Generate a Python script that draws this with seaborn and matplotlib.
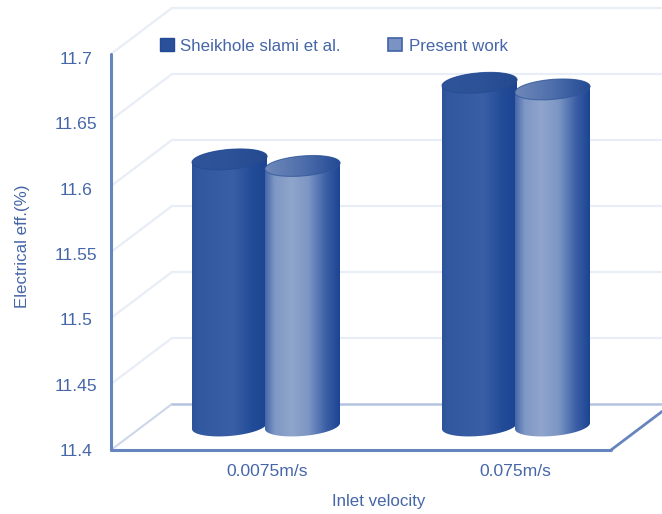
import numpy as np
import pandas as pd
import matplotlib
matplotlib.use("Agg")
import matplotlib.pyplot as plt
from matplotlib.colors import LinearSegmentedColormap
from matplotlib.patches import Patch, PathPatch
from matplotlib.path import Path
from matplotlib.transforms import ScaledTranslation
import seaborn as sns

# Chart values
velocities = ["0.0075m/s", "0.075m/s"]
sheikholeslami = [11.602, 11.66]
present_work = [11.597, 11.655]
series_names = ["Sheikhole slami et al.", "Present work"]
y_ticks = [11.4, 11.45, 11.5, 11.55, 11.6, 11.65, 11.7]
y_tick_labels = ["11.4", "11.45", "11.5", "11.55", "11.6", "11.65", "11.7"]

TEXT = "#4566a8"
W, H = 662, 514
sns.set_theme(style="white")
plt.rcParams["font.family"] = ["Liberation Sans", "DejaVu Sans"]

fig = plt.figure(figsize=(W / 100, H / 100), dpi=100, facecolor="white")
ax = fig.add_axes([111 / W, (H - 450) / H, 500 / W, 396 / H])

frame = pd.DataFrame({
    "velocity": velocities * 2,
    "series": [series_names[0]] * 2 + [series_names[1]] * 2,
    "value": sheikholeslami + present_work,
})
sns.barplot(data=frame, x="velocity", y="value", hue="series", hue_order=series_names,
            width=0.6, gap=0, legend=False, ax=ax, zorder=1)

ax.set_xlim(-0.5, 1.5)
ax.set_ylim(11.4, 11.7)

# Unit sizes of one pixel in data coordinates
px_x = 2.0 / 500
px_y = 0.3 / 396
depth_x, depth_y = 61 * px_x, 46 * px_y
mid_x, mid_y = 31 * px_x, 24 * px_y


def seg(xs, ys, color, lw, z=0.5):
    ax.plot(xs, ys, color=color, lw=lw, clip_on=False, zorder=z, solid_capstyle="round")


# Side wall and back wall rules
for v in y_ticks[1:]:
    seg([-0.5, -0.5 + depth_x, 1.5 + depth_x], [v, v + depth_y, v + depth_y], "#e8edf6", 1.6)
# Floor outline
seg([-0.5, -0.5 + depth_x], [11.4, 11.4 + depth_y], "#ccd7ea", 1.5)
seg([-0.5 + depth_x, 1.5 + depth_x], [11.4 + depth_y, 11.4 + depth_y], "#b4c3e0", 1.8)
seg([1.5, 1.5 + depth_x], [11.4, 11.4 + depth_y], "#6685bf", 2.0, z=0.6)
seg([-0.5, 1.5], [11.4, 11.4], "#6685bf", 2.2, z=0.6)
seg([-0.5, -0.5], [11.4, 11.7], "#6685bf", 2.2, z=0.6)

body_maps = [
    LinearSegmentedColormap.from_list("dark_body", [
        (0, "#2d5299"), (0.08, "#32589f"), (0.55, "#3a5fa6"), (0.8, "#234c98"), (1, "#1c4492")]),
    LinearSegmentedColormap.from_list("light_body", [
        (0, "#4467aa"), (0.13, "#7f97c4"), (0.35, "#8fa5cc"), (0.58, "#7d96c4"),
        (0.82, "#3a5fa6"), (1, "#1c4492")]),
]
cap_maps = [
    LinearSegmentedColormap.from_list("dark_cap", ["#2f5499", "#2d5298", "#24498f"]),
    LinearSegmentedColormap.from_list("light_cap", ["#6f88b9", "#4f6fac", "#234a94"]),
]
rims = ["#244b94", "#2f5599"]

t = np.linspace(0, 2 * np.pi, 121)
bars = sorted(ax.patches, key=lambda p: p.get_x())
# Patches in x order alternate between the two series
series_index = {id(p): i % 2 for i, p in enumerate(bars)}

for bar in bars:
    bar.set_visible(False)

# Cylinders: each bar's geometry gives the body, its top value places the cap
for bar in bars:
    idx = series_index[id(bar)]
    value = bar.get_height()
    a = bar.get_width() / 2
    b = 10 * px_y
    tilt = 3 * px_y
    # The second cylinder of a pair overlaps the first a little
    x0 = bar.get_x() + a + mid_x - idx * 2 * px_x
    y_bot = 11.4 + mid_y
    y_top = value + mid_y
    ex = x0 + a * np.cos(t)
    shear = tilt * np.cos(t)
    upper = t <= np.pi
    lower = t >= np.pi
    # Body outline: lower rim of the bottom ellipse, then across the top ellipse
    bx = np.r_[ex[lower], ex[upper]]
    by = np.r_[y_bot + b * np.sin(t[lower]) + shear[lower],
               y_top + b * np.sin(t[upper]) + shear[upper]]
    extent = [x0 - a, x0 + a, y_bot - 2 * b, y_top + 2 * b]

    clip = PathPatch(Path(np.c_[bx, by]), transform=ax.transData, fc="none", ec="none")
    ax.add_patch(clip)
    grad = np.linspace(0, 1, 256)[None, :]
    z = 2 + idx
    im = ax.imshow(grad, cmap=body_maps[idx], extent=extent, aspect="auto", zorder=z,
                   interpolation="bilinear")
    im.set_clip_path(clip)

    cap = PathPatch(Path(np.c_[ex, y_top + b * np.sin(t) + shear]), transform=ax.transData,
                    fc="none", ec="none")
    ax.add_patch(cap)
    im2 = ax.imshow(grad, cmap=cap_maps[idx], extent=extent, aspect="auto", zorder=z + 0.1,
                    interpolation="bilinear")
    im2.set_clip_path(cap)
    ax.plot(ex, y_top + b * np.sin(t) + shear, color=rims[idx], lw=0.8, alpha=0.7,
            zorder=z + 0.2, clip_on=False)

ax.set_xlim(-0.5, 1.5)
ax.set_ylim(11.4, 11.7)

for s in ax.spines.values():
    s.set_visible(False)
ax.patch.set_alpha(0)

ax.set_yticks(y_ticks, y_tick_labels)
ax.tick_params(axis="y", length=0, pad=25.2, labelsize=12.6, labelcolor=TEXT)
ax.set_xticks([0, 1], velocities)
ax.tick_params(axis="x", length=0, pad=10, labelsize=12.6, labelcolor=TEXT)

# Tick labels sit slightly off the rule positions because of the projected axis
for v, lab in zip(y_ticks, ax.get_yticklabels()):
    lab.set_ha("center")
    lab.set_transform(lab.get_transform()
                      + ScaledTranslation(0, -(v - 11.4) / 0.3 * 4 / 100, fig.dpi_scale_trans))
for lab, shift in zip(ax.get_xticklabels(), [31.5, 29.5]):
    lab.set_transform(lab.get_transform() + ScaledTranslation(shift / 100, 0, fig.dpi_scale_trans))

ax.set_xlabel("Inlet velocity", fontsize=12.2, color=TEXT)
ax.xaxis.set_label_coords((379 - 111) / 500, (450 - 494) / 396)
ax.set_ylabel("Electrical eff.(%)", fontsize=12.2, color=TEXT)
ax.yaxis.set_label_coords((30 - 111) / 500, (450 - 246) / 396)

handles = [Patch(fc="#2a5099", ec="#234a96", lw=1), Patch(fc="#7b93c2", ec="#3f62a8", lw=1.2)]
ax.legend(handles, series_names, ncol=2, frameon=False, fontsize=12.2, labelcolor=TEXT,
          handlelength=0.8, handleheight=0.8, handletextpad=0.4, columnspacing=2.8,
          loc="center left", bbox_to_anchor=((160 - 111) / 500, (450 - 46) / 396),
          borderpad=0, borderaxespad=0)

fig.savefig("out.png", dpi=100, facecolor="white")
